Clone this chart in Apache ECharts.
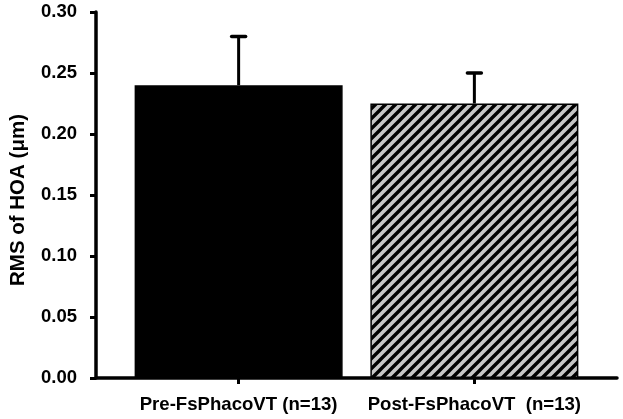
<!DOCTYPE html>
<html>
<head>
<meta charset="utf-8">
<script src="https://cdn.jsdelivr.net/npm/echarts@6/dist/echarts.min.js"></script>
<style>html,body{margin:0;padding:0;background:#fff;}#c{width:623px;height:419px;}</style>
</head>
<body>
<div id="c"></div>
<script>
const categories = ['Pre-FsPhacoVT (n=13)', 'Post-FsPhacoVT  (n=13)'];
const means = [0.24, 0.225];
const errors = [0.04, 0.025];
const yAxisName = 'RMS of HOA (μm)';

function hatch() {
  const s = 10;
  const c = document.createElement('canvas');
  c.width = s; c.height = s;
  const g = c.getContext('2d');
  g.fillStyle = '#c6c6c6';
  g.fillRect(0, 0, s, s);
  g.strokeStyle = '#000';
  g.lineWidth = 3.4;
  g.beginPath();
  g.moveTo(-2, s + 2); g.lineTo(s + 2, -2);
  g.moveTo(-2, 2); g.lineTo(2, -2);
  g.moveTo(s - 2, s + 2); g.lineTo(s + 2, s - 2);
  g.stroke();
  return c;
}

const barColors = ['#000000', { image: hatch(), repeat: 'repeat' }];
const font = 'Liberation Sans, Arial, sans-serif';

const chart = echarts.init(document.getElementById('c'), null, { renderer: 'canvas' });
chart.setOption({
  animation: false,
  backgroundColor: '#fff',
  grid: { left: 91, right: 6, top: 12, bottom: 41, containLabel: false },
  xAxis: {
    type: 'value', min: -0.605, max: 1.605,
    splitLine: { show: false },
    axisLine: { show: true, onZero: false, lineStyle: { color: '#000', width: 3.5 } },
    axisTick: { show: true, customValues: [0, 1], length: 6, lineStyle: { color: '#000', width: 3 } },
    axisLabel: {
      customValues: [0, 1], margin: 17,
      formatter: v => categories[Math.round(v)] || '',
      color: '#000', fontWeight: 'bold', fontSize: 18.6, fontFamily: font
    }
  },
  yAxis: {
    type: 'value', min: 0, max: 0.3, interval: 0.05,
    name: yAxisName, nameLocation: 'middle', nameGap: 67,
    nameTextStyle: { color: '#000', fontWeight: 'bold', fontSize: 20.5, fontFamily: font, padding: [0, 10, 0, 0] },
    splitLine: { show: false },
    axisLine: { show: true, onZero: false, lineStyle: { color: '#000', width: 3.5 } },
    axisTick: { show: true, length: 6, lineStyle: { color: '#000', width: 3 } },
    axisLabel: {
      margin: 19, formatter: v => v.toFixed(2),
      color: '#000', fontWeight: 'bold', fontSize: 18.5, fontFamily: font
    }
  },
  series: [
    {
      type: 'bar',
      barWidth: 208,
      data: means.map((v, i) => ({ value: [i, v], itemStyle: { color: barColors[i] } })),
      itemStyle: { borderColor: '#000', borderWidth: 1.5 }
    },
    {
      type: 'custom',
      data: means.map((v, i) => [i, v, errors[i]]),
      z: 10,
      renderItem: function (params, api) {
        const x = api.value(0), m = api.value(1), e = api.value(2);
        const p0 = api.coord([x, m]);
        const p1 = api.coord([x, m + e]);
        return {
          type: 'group',
          children: [
            { type: 'line', shape: { x1: p0[0], y1: p0[1], x2: p1[0], y2: p1[1] }, style: { stroke: '#000', lineWidth: 3 } },
            { type: 'line', shape: { x1: p1[0] - 7, y1: p1[1], x2: p1[0] + 7, y2: p1[1] }, style: { stroke: '#000', lineWidth: 3.5, lineCap: 'round' } }
          ]
        };
      }
    }
  ]
});
</script>
</body>
</html>
